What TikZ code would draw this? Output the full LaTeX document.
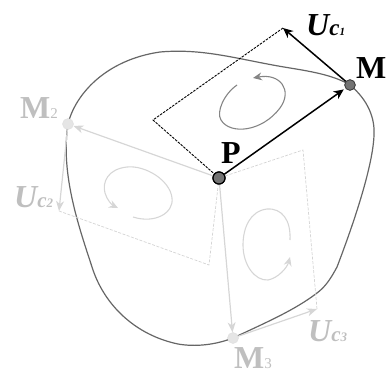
\documentclass[tikz,border=0pt]{standalone}
\usepackage{fontspec}
\setmainfont{Liberation Serif}
\usetikzlibrary{arrows.meta}
\tikzset{
  active/.style={draw=black,line width=1.5pt,-{Stealth[length=10pt,width=9pt,inset=3pt]},shorten >=2pt},
  faint/.style={draw=black!16,line width=1.2pt,-{Stealth[length=10pt,width=8pt,inset=3pt]}},
  activedash/.style={draw=black,line width=0.9pt,dash pattern=on 2.5pt off 1.2pt},
  faintdash/.style={draw=black!17,line width=0.7pt,dash pattern=on 3pt off 1.5pt},
  outline/.style={draw=black!60,line width=1.2pt},
  swirl/.style={draw=black!48,line width=1.1pt,-{Stealth[length=9pt,width=8pt,inset=3pt]}},
  swirlfaint/.style={draw=black!16,line width=1.1pt,-{Stealth[length=9pt,width=8pt,inset=3pt]}},
  dotdark/.style={circle,draw=black,fill=black!55,line width=1.2pt,inner sep=0pt,minimum size=12pt},
  dotmid/.style={circle,draw=black!75,fill=black!55,line width=0.8pt,inner sep=0pt,minimum size=10.5pt},
  dotfaint/.style={circle,draw=black!12,fill=black!10,line width=0.5pt,inner sep=0pt,minimum size=11pt},
  lab/.style={inner sep=0pt,font=\bfseries\fontsize{32}{32}\selectfont},
  labfaint/.style={lab,text=black!25},
}
\newcommand{\subsz}[2]{{\fontsize{#1}{#1}\selectfont #2}}
\begin{document}
\begin{tikzpicture}[x=1pt,y=-1pt]
\useasboundingbox (0,0) rectangle (388,375);
% outline
\draw[outline] (350,85) .. controls (368,100) and (375,118) .. (374,135)
  .. controls (373,165) and (355,220) .. (337,267)
  .. controls (330,280) and (325,287) .. (317,293)
  .. controls (295,310) and (265,323) .. (233,338)
  .. controls (215,345) and (195,347) .. (178,344)
  .. controls (135,335) and (105,305) .. (93,270)
  .. controls (80,230) and (60,175) .. (68,124)
  .. controls (75,95) and (105,60) .. (160,52)
  .. controls (205,48) and (240,60) .. (290,68)
  .. controls (315,72) and (335,76) .. (350,85);
% named points
\node[dotmid] (M) at (350,85) {};
\node[dotfaint] (M2) at (68,124) {};
\node[dotfaint] (M3) at (233,338) {};
\node[dotdark] (P) at (219,178) {};
\coordinate (U1) at (283,28);
\coordinate (C1) at (153,120);
\coordinate (U2) at (59,211);
\coordinate (C2) at (209,265);
\coordinate (U3) at (317,309);
\coordinate (C3) at (303,150);
% faint parallelograms
\draw[faintdash] (U2) -- (C2) -- (P);
\draw[faintdash] (U3) -- (C3) -- (P);
\draw[faint] (P) -- (M2);
\draw[faint] (P) -- (M3);
\draw[faint] (M2) -- (U2);
\draw[faint] (M3) -- (U3);
% faint swirls
\draw[swirlfaint] (133,217) .. controls (155,224) and (174,213) .. (172,198)
  .. controls (170,180) and (145,165) .. (127,167)
  .. controls (108,169) and (102,182) .. (105,193)
  .. controls (107,200) and (112,205) .. (118,208);
\draw[swirlfaint] (290,240) .. controls (291,220) and (282,208) .. (267,209)
  .. controls (250,211) and (243,228) .. (243,245)
  .. controls (243,265) and (255,281) .. (268,280)
  .. controls (278,278) and (287,268) .. (290,257);
% active parallelogram
\draw[activedash] (U1) -- (C1) -- (P);
\draw[active] (P) -- (M);
\draw[active,shorten >=0pt] (M) -- (U1);
\draw[swirl] (237,85) .. controls (224,94) and (216,112) .. (221,120)
  .. controls (230,135) and (262,132) .. (280,108)
  .. controls (293,90) and (280,73) .. (253,78);
\node[dotdark] at (P) {};
\node[dotmid] at (M) {};
% labels
\node[lab,anchor=base west] (lP) at (221,163) {P};
\node[lab,anchor=base west] (lM) at (356,78) {M};
\node[lab,anchor=base west] (lU1) at (306,35) {\itshape U\subsz{23}{c}\subsz{11}{1}};
\node[labfaint,anchor=base west] (lM2) at (20,118) {M\subsz{15}{\mdseries 2}};
\node[labfaint,anchor=base west] (lU2) at (14,207) {\itshape U\subsz{21}{c}\subsz{13}{2}};
\node[labfaint,anchor=base west] (lM3) at (234,368) {M\subsz{15}{\mdseries 3}};
\node[labfaint,anchor=base west] (lU3) at (308,341) {\itshape U\subsz{21}{c}\subsz{13}{3}};
\end{tikzpicture}
\end{document}
